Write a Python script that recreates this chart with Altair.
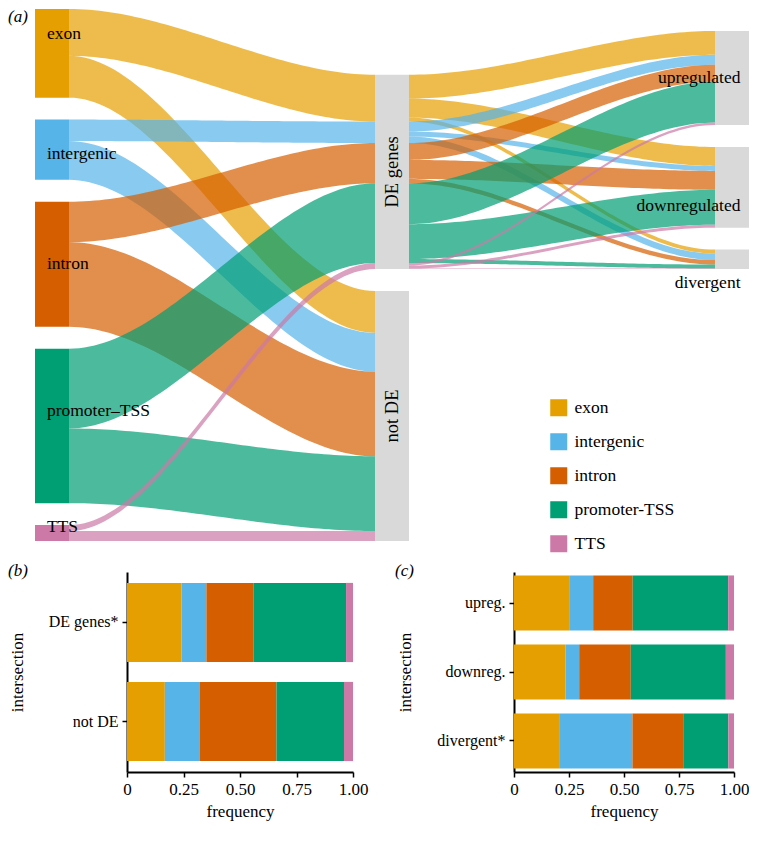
import altair as alt
import pandas as pd
import numpy as np

# ---------------- data ----------------
regions = ["exon", "intergenic", "intron", "promoter-TSS", "TTS"]
region_labels = ["exon", "intergenic", "intron", "promoter–TSS", "TTS"]
region_colors = ["#E69F00", "#56B4E9", "#D55E00", "#009E73", "#CC79A7"]

de_status = ["DE genes", "not DE"]
de_status_bar = ["DE genes*", "not DE"]
directions = ["upregulated", "downregulated", "divergent"]
directions_bar = ["upreg.", "downreg.", "divergent*"]

# estimated peak counts per genomic region
not_de_counts = [42, 39, 85, 75, 10]
up_counts = [24, 10, 17, 41, 2.5]
down_counts = [19, 5, 19, 35, 3]
div_counts = [4, 6.5, 4.5, 4, 0.5]

# label nudges in data units (+ = up)
left_label_nudge = [19, -4, 0, 15, 6]
right_label_nudge = [0, -19, -24]

FONT = "Liberation Serif"
GAP = 22
BAR_W = 0.1
AXES = [1, 2, 3]

# ---------------- alluvial layout ----------------
dir_counts = [up_counts, down_counts, div_counts]
n = len(regions)
de_counts = [sum(d[i] for d in dir_counts) for i in range(n)]
left_sizes = [de_counts[i] + not_de_counts[i] for i in range(n)]
mid_sizes = [sum(de_counts), sum(not_de_counts)]
# last right stratum is the hidden continuation of "not DE"
right_sizes = [sum(d) for d in dir_counts] + [sum(not_de_counts)]


def stack(sizes):
    tops = [0.0] * len(sizes)
    y = 0.0
    for i in range(len(sizes) - 1, -1, -1):
        tops[i] = y + sizes[i]
        y = tops[i] + GAP
    return tops


left_tops = stack(left_sizes)
mid_tops = stack(mid_sizes)
right_tops = stack(right_sizes)
ymax = max(left_tops[0], mid_tops[0], right_tops[0])

links = []
lc = list(left_tops)
mc = list(mid_tops)
for r in range(n):
    for s, cnt in enumerate([de_counts[r], not_de_counts[r]]):
        links.append((AXES[0], AXES[1], lc[r], mc[s], cnt, r))
        lc[r] -= cnt
        mc[s] -= cnt
mo = mid_tops[0]
rc = list(right_tops)
for r in range(n):
    for d in range(3):
        cnt = dir_counts[d][r]
        links.append((AXES[1], AXES[2], mo, rc[d], cnt, r))
        mo -= cnt
        rc[d] -= cnt

rows = []
ts = np.linspace(0, 1, 61)
for k, (a0, a1, t0, t1, h, r) in enumerate(links):
    x0 = a0 + BAR_W / 2
    x1 = a1 - BAR_W / 2
    for t in ts:
        s = t * t * (3 - 2 * t)
        top = t0 + (t1 - t0) * s
        rows.append({"link": k, "x": x0 + (x1 - x0) * t, "y": top,
                     "y2": top - h, "region": regions[r]})
flows = pd.DataFrame(rows)

left_strata = pd.DataFrame([
    {"x": AXES[0] - BAR_W / 2, "x2": AXES[0] + BAR_W / 2,
     "y": left_tops[r], "y2": left_tops[r] - left_sizes[r],
     "region": regions[r], "label": region_labels[r],
     "lx": AXES[0] - BAR_W / 2 + 0.035,
     "ly": left_tops[r] - left_sizes[r] / 2 + left_label_nudge[r]}
    for r in range(n)])

gray_rows = []
for s in range(2):
    gray_rows.append({"x": AXES[1] - BAR_W / 2, "x2": AXES[1] + BAR_W / 2,
                      "y": mid_tops[s], "y2": mid_tops[s] - mid_sizes[s],
                      "label": de_status[s], "lx": AXES[1],
                      "ly": mid_tops[s] - mid_sizes[s] / 2, "col": "mid"})
for d in range(3):
    gray_rows.append({"x": AXES[2] - BAR_W / 2, "x2": AXES[2] + BAR_W / 2,
                      "y": right_tops[d], "y2": right_tops[d] - right_sizes[d],
                      "label": directions[d], "lx": AXES[2] + 0.025,
                      "ly": right_tops[d] - right_sizes[d] / 2 + right_label_nudge[d],
                      "col": "right"})
gray_strata = pd.DataFrame(gray_rows)

# the Sankey spans further left than the bar panels' plot origin
SANKEY_RANGE = [-92, 622]
xs = alt.Scale(domain=[AXES[0] - BAR_W / 2, AXES[2] + BAR_W / 2],
               range=SANKEY_RANGE, nice=False, zero=False)
ys = alt.Scale(domain=[0, ymax], nice=False, zero=False)
cs = alt.Scale(domain=regions, range=region_colors)

legend = alt.Legend(
    orient="none", legendX=423, legendY=390, title=None,
    symbolType="square", symbolSize=289, symbolStrokeWidth=0,
    symbolOpacity=1, labelFont=FONT, labelFontSize=17.5,
    labelColor="black", rowPadding=15, labelOffset=7)

flow_layer = alt.Chart(flows).mark_area(opacity=0.7, orient="vertical").encode(
    x=alt.X("x:Q", scale=xs, axis=None),
    y=alt.Y("y:Q", scale=ys, axis=None, stack=None),
    y2="y2:Q",
    color=alt.Color("region:N", scale=cs, legend=legend),
    detail="link:N",
)

left_layer = alt.Chart(left_strata).mark_rect().encode(
    x=alt.X("x:Q", scale=xs, axis=None), x2="x2:Q",
    y=alt.Y("y:Q", scale=ys, axis=None), y2="y2:Q",
    color=alt.Color("region:N", scale=cs, legend=legend),
)

gray_layer = alt.Chart(gray_strata).mark_rect(color="#D9D9D9").encode(
    x=alt.X("x:Q", scale=xs, axis=None), x2="x2:Q",
    y=alt.Y("y:Q", scale=ys, axis=None), y2="y2:Q",
)

left_text = alt.Chart(left_strata).mark_text(
    align="left", baseline="middle", font=FONT, fontSize=17.5, color="black"
).encode(x=alt.X("lx:Q", scale=xs), y=alt.Y("ly:Q", scale=ys), text="label:N")

mid_text = alt.Chart(gray_strata).transform_filter("datum.col == 'mid'").mark_text(
    align="center", baseline="middle", angle=270, font=FONT, fontSize=18.5, color="black"
).encode(x=alt.X("lx:Q", scale=xs), y=alt.Y("ly:Q", scale=ys), text="label:N")

right_text = alt.Chart(gray_strata).transform_filter("datum.col == 'right'").mark_text(
    align="right", baseline="middle", font=FONT, fontSize=17.5, color="black"
).encode(x=alt.X("lx:Q", scale=xs), y=alt.Y("ly:Q", scale=ys), text="label:N")

panel_a = alt.Chart(pd.DataFrame({"t": ["(a)"]})).mark_text(
    align="left", baseline="top", font=FONT, fontSize=17, fontStyle="italic", color="black"
).encode(text="t:N", x=alt.value(-119), y=alt.value(0))

sankey = alt.layer(flow_layer, left_layer, gray_layer, left_text, mid_text,
                   right_text, panel_a).properties(width=SANKEY_RANGE[1], height=532)

# ---------------- stacked bars ----------------
b_rows = []
for s, lab in enumerate(de_status_bar):
    vals = de_counts if s == 0 else not_de_counts
    for r in range(n):
        b_rows.append({"intersection": lab, "region": regions[r], "ridx": r, "count": vals[r]})
c_rows = []
for d, lab in enumerate(directions_bar):
    for r in range(n):
        c_rows.append({"intersection": lab, "region": regions[r], "ridx": r,
                       "count": dir_counts[d][r]})


def bar_panel(df, cats, letter, pin, pout, lx, w):
    main = alt.Chart(df).mark_bar().encode(
        x=alt.X("count:Q", stack="normalize",
                scale=alt.Scale(domain=[0, 1], nice=False),
                axis=alt.Axis(values=[0, 0.25, 0.5, 0.75, 1],
                              labelExpr="datum.value == 0 ? '0' : format(datum.value, '.2f')",
                              title="frequency", labelFlush=False)),
        y=alt.Y("intersection:N", sort=cats,
                scale=alt.Scale(paddingInner=pin, paddingOuter=pout),
                axis=alt.Axis(title="intersection")),
        color=alt.Color("region:N", scale=cs, legend=None),
        order=alt.Order("ridx:Q", sort="ascending"),
    )
    lab = alt.Chart(pd.DataFrame({"t": [letter]})).mark_text(
        align="left", baseline="top", font=FONT, fontSize=17, fontStyle="italic", color="black"
    ).encode(text="t:N", x=alt.value(lx), y=alt.value(-9))
    return alt.layer(main, lab).properties(width=w, height=200)


panel_b = bar_panel(pd.DataFrame(b_rows), de_status_bar, "(b)", 0.2, 0.11, -119, 226)
panel_c = bar_panel(pd.DataFrame(c_rows), directions_bar, "(c)", 0.2, 0.05, -119, 220)

chart = alt.vconcat(
    sankey,
    alt.hconcat(panel_b, panel_c, spacing=27),
    spacing=21,
).properties(
    padding={"left": 0, "top": 0, "right": 0, "bottom": 6}
).configure_view(stroke=None).configure_axis(
    domainColor="black", domainWidth=2, tickColor="black", tickWidth=1.5,
    tickSize=5, labelFont=FONT, labelFontSize=17, labelColor="black",
    titleFont=FONT, titleFontSize=17, titleFontWeight="normal",
    titleColor="black", labelPadding=4, grid=False,
).configure_axisY(titlePadding=22, labelFontSize=16).configure_axisX(titlePadding=6)

chart.save("out.html", embed_options={"renderer": "svg", "actions": False})
